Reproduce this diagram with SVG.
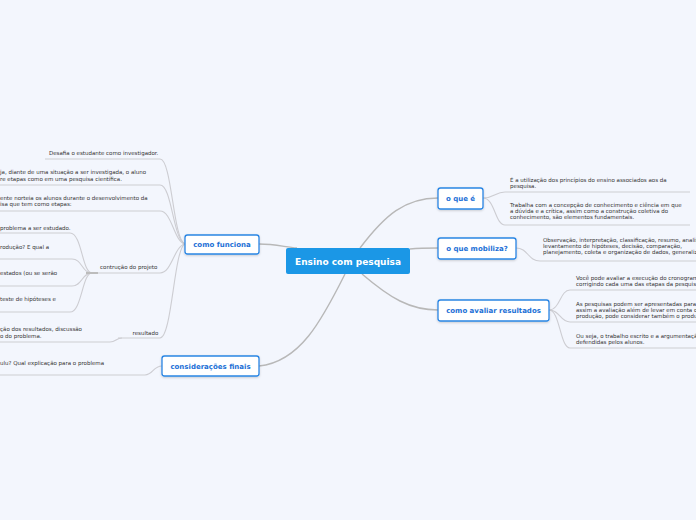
<svg xmlns="http://www.w3.org/2000/svg" width="696" height="520" viewBox="0 0 696 520">
<style>
.bg{fill:#f3f6fd}
.main{fill:none;stroke:#b8b8b8;stroke-width:1.4}
.sub{fill:none;stroke:#cdcdd2;stroke-width:1.1}
.node rect{fill:#ffffff;stroke:#2a86e4;stroke-width:1.3}
.node text{font-family:"DejaVu Sans",Verdana,sans-serif;font-weight:bold;font-size:7px;fill:#1b6fd6;text-anchor:middle}
.leaf{font-family:"DejaVu Sans",Verdana,sans-serif;font-size:5.5px;fill:#333333}
</style>
<defs>
<filter id="sh" x="-20%" y="-30%" width="140%" height="170%">
<feDropShadow dx="0" dy="1" stdDeviation="0.8" flood-color="#000" flood-opacity="0.18"/>
</filter>
</defs>
<rect class="bg" x="0" y="0" width="696" height="520"/>
<g id="connectors">
<path class="main" d="M259,244 C275,244 285,247 297,248"/>
<path class="main" d="M259,366 C300,362 322,320 345,274"/>
<path class="main" d="M360,248 C385,215 405,198 438,198"/>
<path class="main" d="M410,249 C420,248 428,248 438,248"/>
<path class="main" d="M362,274 C390,298 410,310 438,310"/>
<path class="sub" d="M45,159 H160 C172,159 173,240 185,244"/>
<path class="sub" d="M0,185 H160 C172,185 173,240 185,244"/>
<path class="sub" d="M0,211 H160 C172,211 174,242 185,244"/>
<path class="sub" d="M97,273 H160 C172,273 174,246 185,244"/>
<path class="sub" d="M118,338 H160 C172,338 174,248 185,244"/>
<path class="sub" d="M0,233 H70 C82,233 82,273 92,273"/>
<path class="sub" d="M0,259 H72 C82,259 82,273 92,273"/>
<path class="sub" d="M0,286 H72 C82,286 82,273 92,273"/>
<path class="sub" d="M0,312 H70 C82,312 82,273 92,273"/>
<path fill="none" stroke="#bcbcbc" stroke-width="2" d="M86,273 H98"/>
<path class="sub" d="M0,342 H110 C116,342 116,338 122,338"/>
<path class="sub" d="M0,375 H145 C153,375 153,366 162,366"/>
<path class="sub" d="M483,198 C495,198 495,192 505,192 H690"/>
<path class="sub" d="M483,198 C495,198 495,225 505,225 H690"/>
<path class="sub" d="M516,248 C528,248 528,261 540,261 H696"/>
<path class="sub" d="M549,310 C560,310 560,290 570,290 H696"/>
<path class="sub" d="M549,310 C560,310 560,322 570,322 H696"/>
<path class="sub" d="M549,310 C560,310 560,348 570,348 H696"/>
</g>
<g id="center">
<rect x="286" y="248" width="124" height="26" rx="2" fill="#1b97e6"/>
<text x="348" y="264.5" font-family="DejaVu Sans,Verdana,sans-serif" font-weight="bold" font-size="9px" fill="#ffffff" text-anchor="middle">Ensino com pesquisa</text>
</g>
<g id="como-funciona" class="node">
<rect x="185" y="235" width="74" height="19" rx="2.5" filter="url(#sh)"/>
<text x="222" y="247">como funciona</text>
</g>
<g id="consideracoes-finais" class="node">
<rect x="162" y="356" width="97" height="20" rx="2.5" filter="url(#sh)"/>
<text x="210.5" y="368.5">considerações finais</text>
</g>
<g id="o-que-e" class="node">
<rect x="438" y="188" width="45" height="21" rx="2.5" filter="url(#sh)"/>
<text x="460.5" y="201">o que é</text>
</g>
<g id="o-que-mobiliza" class="node">
<rect x="438" y="238" width="78" height="21" rx="2.5" filter="url(#sh)"/>
<text x="477" y="251">o que mobiliza?</text>
</g>
<g id="como-avaliar" class="node">
<rect x="438" y="300" width="111" height="21" rx="2.5" filter="url(#sh)"/>
<text x="493.5" y="313">como avaliar resultados</text>
</g>
<g id="leaf-desafia"><text class="leaf" x="49" y="155">Desafia o estudante como investigador.</text></g>
<g id="leaf-diante"><text class="leaf" x="0" y="174">ja, diante de uma situação a ser investigada, o aluno</text><text class="leaf" x="0" y="180.5">re etapas como em uma pesquisa científica.</text></g>
<g id="leaf-norteia"><text class="leaf" x="0" y="199.5">ente norteia os alunos durante o desenvolvimento da</text><text class="leaf" x="0" y="206">isa que tem como etapas:</text></g>
<g id="contrucao"><text class="leaf" x="100" y="269">contrução do projeto</text></g>
<g id="leaf-problema"><text class="leaf" x="0" y="230">problema a ser estudado.</text></g>
<g id="leaf-producao"><text class="leaf" x="0" y="249">rodução? E qual a</text></g>
<g id="leaf-estados"><text class="leaf" x="0" y="275">estados (ou se serão</text></g>
<g id="leaf-teste"><text class="leaf" x="0" y="301">teste de hipóteses e</text></g>
<g id="resultado"><text class="leaf" x="132.5" y="335">resultado</text></g>
<g id="leaf-resultados"><text class="leaf" x="0" y="331">ção dos resultados, discussão</text><text class="leaf" x="0" y="337.5">o do problema.</text></g>
<g id="leaf-explicacao"><text class="leaf" x="0" y="364.5">ulu? Qual explicação para o problema</text></g>
<g id="leaf-utilizacao"><text class="leaf" x="510" y="182">É a utilização dos princípios do ensino associados aos da</text><text class="leaf" x="510" y="188">pesquisa.</text></g>
<g id="leaf-trabalha"><text class="leaf" x="510" y="207">Trabalha com a concepção de conhecimento e ciência em que</text><text class="leaf" x="510" y="213">a dúvida e a crítica, assim como a construção coletiva do</text><text class="leaf" x="510" y="219">conhecimento, são elementos fundamentais.</text></g>
<g id="leaf-observacao"><text class="leaf" x="543" y="242">Observação, interpretação, classificação, resumo, analise,</text><text class="leaf" x="543" y="248">levantamento de hipóteses, decisão, comparação,</text><text class="leaf" x="543" y="254">planejamento, coleta e organização de dados, generalização.</text></g>
<g id="leaf-cronograma"><text class="leaf" x="576" y="280">Você pode avaliar a execução do cronograma,</text><text class="leaf" x="576" y="286">corrigindo cada uma das etapas da pesquisa.</text></g>
<g id="leaf-apresentadas"><text class="leaf" x="576" y="306">As pesquisas podem ser apresentadas para a turma,</text><text class="leaf" x="576" y="312">assim a avaliação além de levar em conta o processo de</text><text class="leaf" x="576" y="318">produção, pode considerar também o produto final.</text></g>
<g id="leaf-ouseja"><text class="leaf" x="576" y="338">Ou seja, o trabalho escrito e a argumentação das ideias</text><text class="leaf" x="576" y="344">defendidas pelos alunos.</text></g>
</svg>
